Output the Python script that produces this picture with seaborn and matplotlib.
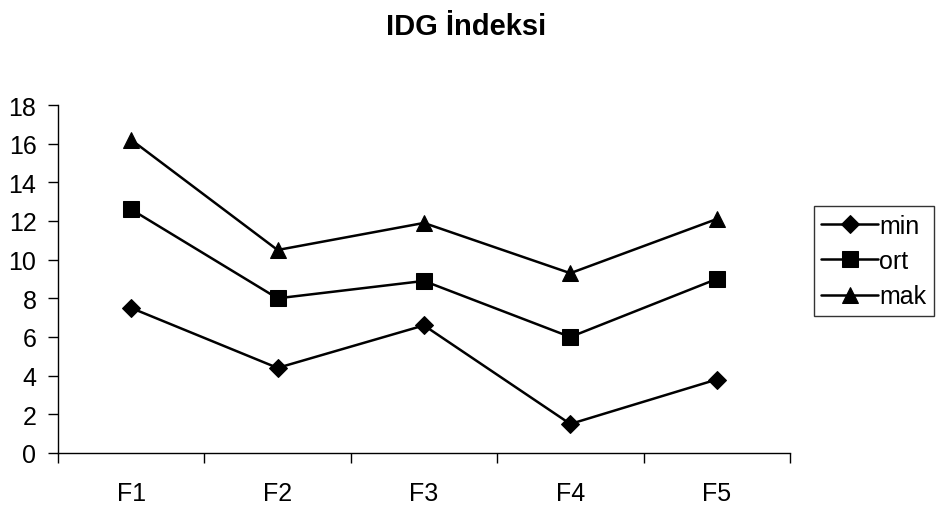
import matplotlib
matplotlib.use("Agg")
import matplotlib.pyplot as plt
import seaborn as sns
import pandas as pd
import numpy as np
from matplotlib.ticker import FixedLocator, NullFormatter

categories = ["F1", "F2", "F3", "F4", "F5"]
min_vals = [7.5, 4.4, 6.6, 1.5, 3.8]
ort_vals = [12.6, 8.0, 8.9, 6.0, 9.0]
mak_vals = [16.2, 10.5, 11.9, 9.3, 12.1]
series_names = ["min", "ort", "mak"]
y_ticks = [0, 2, 4, 6, 8, 10, 12, 14, 16, 18]

sns.set_theme(style="white")
plt.rcParams['font.family'] = ['Liberation Sans', 'DejaVu Sans']
plt.rcParams['text.color'] = 'black'
plt.rcParams['xtick.color'] = 'black'
plt.rcParams['ytick.color'] = 'black'
plt.rcParams['xtick.labelcolor'] = 'black'
plt.rcParams['ytick.labelcolor'] = 'black'
plt.rcParams['axes.labelcolor'] = 'black'

rows = []
for name, vals in zip(series_names, [min_vals, ort_vals, mak_vals]):
    for i, v in enumerate(vals):
        rows.append({"pos": i, "cat": categories[i], "value": v, "series": name})
df = pd.DataFrame(rows)

fig = plt.figure(figsize=(9.37, 5.06), dpi=100)
ax = fig.add_axes([0.0619, 0.1028, 0.843 - 0.0619, 0.7905 - 0.1028])

sizes = {"D": 9, "s": 11, "^": 12}

sns.lineplot(data=df, x="pos", y="value", style="series", hue="series",
             palette=["black"] * 3, markers={"min": "D", "ort": "s", "mak": "^"},
             dashes=False, linewidth=1.8, markersize=10, markeredgecolor="black",
             ax=ax, legend=True)
for line in ax.lines:
    m = line.get_marker()
    if m in sizes:
        line.set_markersize(sizes[m])

ax.set_xlim(-0.5, 4.5)
ax.set_ylim(0, 18)
ax.set_yticks(y_ticks)
ax.set_yticklabels([str(t) for t in y_ticks], fontsize=18, color="black")
ax.xaxis.set_major_locator(FixedLocator(np.arange(-0.5, 5.0, 1.0)))
ax.xaxis.set_major_formatter(NullFormatter())
ax.xaxis.set_minor_locator(FixedLocator(np.arange(0, 5)))
ax.set_xticklabels(categories, minor=True, fontsize=18, color="black")
ax.tick_params(axis="x", which="major", direction="out", length=7, width=1, color="black", bottom=True)
ax.tick_params(axis="x", which="minor", length=0, pad=20, bottom=True)
ax.tick_params(axis="y", direction="out", length=7, width=1, color="black", left=True, pad=8.5)
ax.set_xlabel("")
ax.set_ylabel("")
for s in ["top", "right"]:
    ax.spines[s].set_visible(False)
for s in ["left", "bottom"]:
    ax.spines[s].set_color("black")
    ax.spines[s].set_linewidth(1)

handles, labels = ax.get_legend_handles_labels()
for h in handles:
    h.set_linewidth(1.8)
    m = h.get_marker()
    if m in sizes:
        h.set_markersize(sizes[m])
    h.set_markeredgecolor("black")
leg = ax.legend(handles, labels, loc="center left", bbox_to_anchor=(814 / 937, 1 - 262 / 506),
                bbox_transform=fig.transFigure, frameon=True, fancybox=False,
                fontsize=18, handlelength=2.25, handletextpad=0.05, borderpad=0.3,
                labelspacing=0.45, borderaxespad=0)
leg.get_frame().set_edgecolor("black")
leg.get_frame().set_linewidth(1)
for t in leg.get_texts():
    t.set_color("black")

fig.text(466 / 937, 1 - 27 / 506, "IDG İndeksi", ha="center", va="center",
         fontsize=21, fontweight="bold", color="black")

fig.savefig("out.png", dpi=100, facecolor="white")
